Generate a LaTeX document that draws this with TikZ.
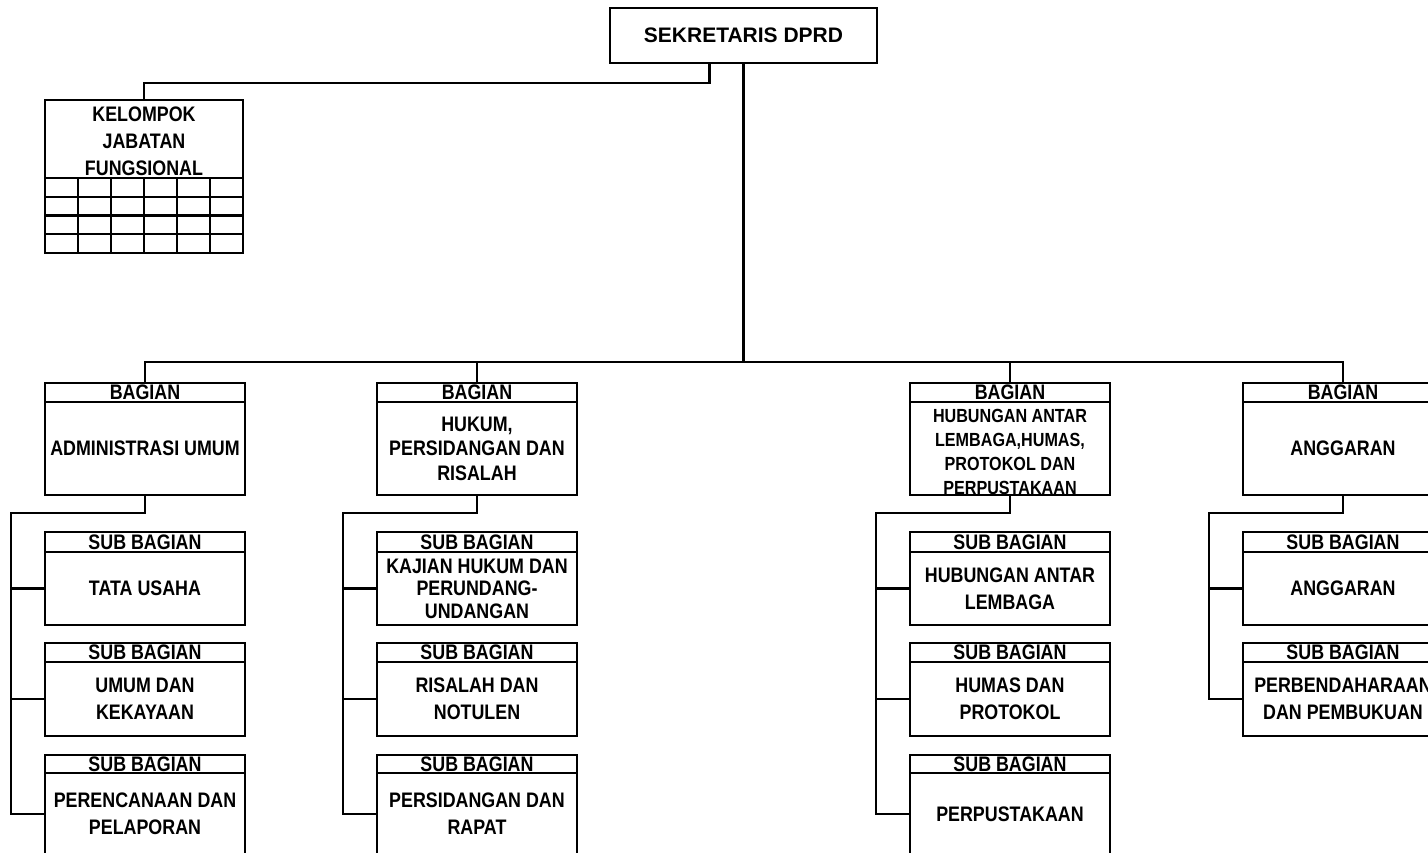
\documentclass[tikz,border=0pt]{standalone}
\usepackage{fontspec}
\setmainfont{Liberation Sans}
\newfontfamily\narrowfont[FakeStretch=0.85]{Liberation Sans}
\newcommand\nbf[2]{\narrowfont\bfseries\fontsize{#1}{#2}\selectfont}
\begin{document}
\begin{tikzpicture}[x=1pt,y=-1pt,
  every node/.style={outer sep=0pt},
  ln/.style={line width=2.2pt},
  hdr/.style={draw, line width=2.2pt, anchor=north west, minimum width=200pt, minimum height=19pt, inner xsep=0pt, inner ysep=-20pt, font={\nbf{21}{27}}},
  bdy/.style={draw, line width=2.2pt, anchor=north, minimum width=200pt, inner xsep=0pt, inner ysep=-40pt, align=center, font={\nbf{21}{27}}}]
\useasboundingbox (0,0) rectangle (1428,853);

% top
\node[draw, line width=2.2pt, anchor=north west, minimum width=267pt, minimum height=55pt, inner sep=0pt, font={\bfseries\fontsize{21}{25}\selectfont}] (sek) at (610,8) {SEKRETARIS DPRD};

% kelompok jabatan fungsional
\node[draw, line width=2.2pt, anchor=north west, minimum width=198pt, minimum height=78pt, inner xsep=0pt, inner ysep=-30pt, align=center, font={\nbf{21}{27}}] (kel) at (45,100) {\rule{0pt}{20pt}KELOMPOK\\JABATAN\\FUNGSIONAL};
\draw[ln] (kel.south west) rectangle ++(198,75);
\foreach \i in {1,...,5} \draw[ln] ([xshift=\i*33pt]kel.south west) -- ++(0,75);
\foreach \j in {1,...,3} \draw[ln] ([yshift=-\j*18.75pt]kel.south west) -- ++(198,0);
\draw[ln] ([xshift=-34pt]sek.south) -- ++(0,20) -| (kel.north);

% column 1
\node[hdr] (b1h) at (45,383) {BAGIAN};
\node[bdy, minimum height=93pt] (b1b) at (b1h.south) {ADMINISTRASI UMUM};
\node[hdr, minimum height=20pt] (s11h) at (45,532) {SUB BAGIAN};
\node[bdy, minimum height=73pt] (s11b) at (s11h.south) {TATA USAHA};
\node[hdr] (s12h) at (45,643) {SUB BAGIAN};
\node[bdy, minimum height=74pt] (s12b) at (s12h.south) {UMUM DAN\\KEKAYAAN};
\node[hdr, minimum height=18pt] (s13h) at (45,755) {SUB BAGIAN};
\node[bdy, minimum height=82pt] (s13b) at (s13h.south) {PERENCANAAN DAN\\PELAPORAN};

% column 2
\node[hdr] (b2h) at (377,383) {BAGIAN};
\node[bdy, minimum height=93pt, font={\nbf{21}{24.5}}] (b2b) at (b2h.south) {HUKUM,\\PERSIDANGAN DAN\\RISALAH};
\node[hdr, minimum height=20pt] (s21h) at (377,532) {SUB BAGIAN};
\node[bdy, minimum height=73pt, font={\nbf{21}{22.5}}] (s21b) at (s21h.south) {KAJIAN HUKUM DAN\\PERUNDANG-\\UNDANGAN};
\node[hdr] (s22h) at (377,643) {SUB BAGIAN};
\node[bdy, minimum height=74pt] (s22b) at (s22h.south) {RISALAH DAN\\NOTULEN};
\node[hdr, minimum height=18pt] (s23h) at (377,755) {SUB BAGIAN};
\node[bdy, minimum height=82pt] (s23b) at (s23h.south) {PERSIDANGAN DAN\\RAPAT};

% column 3
\node[hdr] (b3h) at (910,383) {BAGIAN};
\node[bdy, minimum height=93pt, font={\nbf{19}{24}}] (b3b) at (b3h.south) {\rule{0pt}{20pt}HUBUNGAN ANTAR\\LEMBAGA,HUMAS,\\PROTOKOL DAN\\PERPUSTAKAAN};
\node[hdr, minimum height=20pt] (s31h) at (910,532) {SUB BAGIAN};
\node[bdy, minimum height=73pt] (s31b) at (s31h.south) {HUBUNGAN ANTAR\\LEMBAGA};
\node[hdr] (s32h) at (910,643) {SUB BAGIAN};
\node[bdy, minimum height=74pt] (s32b) at (s32h.south) {HUMAS DAN\\PROTOKOL};
\node[hdr, minimum height=18pt] (s33h) at (910,755) {SUB BAGIAN};
\node[bdy, minimum height=82pt] (s33b) at (s33h.south) {PERPUSTAKAAN};

% column 4
\node[hdr] (b4h) at (1243,383) {BAGIAN};
\node[bdy, minimum height=93pt] (b4b) at (b4h.south) {ANGGARAN};
\node[hdr, minimum height=20pt] (s41h) at (1243,532) {SUB BAGIAN};
\node[bdy, minimum height=73pt] (s41b) at (s41h.south) {ANGGARAN};
\node[hdr] (s42h) at (1243,643) {SUB BAGIAN};
\node[bdy, minimum height=74pt] (s42b) at (s42h.south) {PERBENDAHARAAN\\DAN PEMBUKUAN};

% main connectors
\coordinate (bus) at (743.5,362);
\draw[ln] (sek.south) -- (bus);
\draw[ln] (b1h.north) |- (bus) -| (b4h.north);
\draw[ln] (b2h.north) -- (b2h.north |- bus);
\draw[ln] (b3h.north) -- (b3h.north |- bus);

% sub connectors
\draw[ln] (b1b.south) -- ++(0,18) -| ([xshift=-34pt]s13b.west) -- (s13b.west);
\draw[ln] ([xshift=-34pt]s11b.west) -- (s11b.west);
\draw[ln] ([xshift=-34pt]s12b.west) -- (s12b.west);

\draw[ln] (b2b.south) -- ++(0,18) -| ([xshift=-34pt]s23b.west) -- (s23b.west);
\draw[ln] ([xshift=-34pt]s21b.west) -- (s21b.west);
\draw[ln] ([xshift=-34pt]s22b.west) -- (s22b.west);

\draw[ln] (b3b.south) -- ++(0,18) -| ([xshift=-34pt]s33b.west) -- (s33b.west);
\draw[ln] ([xshift=-34pt]s31b.west) -- (s31b.west);
\draw[ln] ([xshift=-34pt]s32b.west) -- (s32b.west);

\draw[ln] (b4b.south) -- ++(0,18) -| ([xshift=-34pt]s42b.west) -- (s42b.west);
\draw[ln] ([xshift=-34pt]s41b.west) -- (s41b.west);
\end{tikzpicture}
\end{document}
